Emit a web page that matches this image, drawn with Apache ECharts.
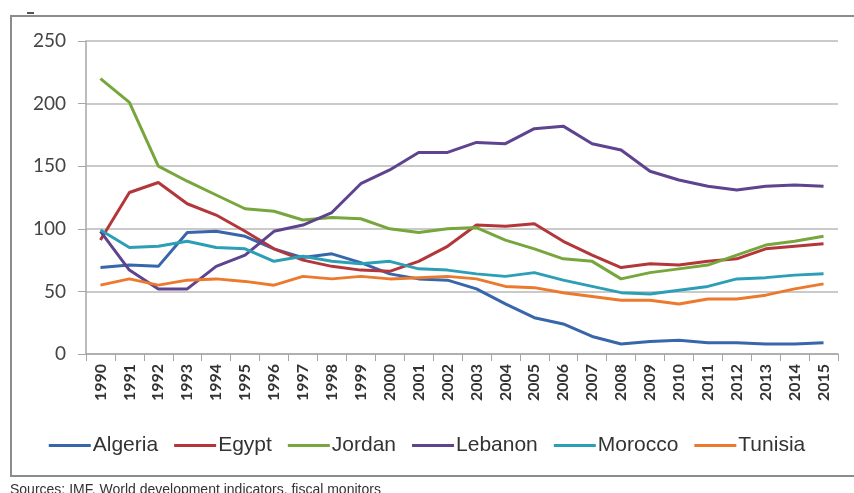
<!DOCTYPE html>
<html>
<head>
<meta charset="utf-8">
<script src="https://cdn.jsdelivr.net/npm/echarts@6/dist/echarts.min.js"></script>
<style>
  html, body { margin: 0; padding: 0; background: #fff; }
  #chart { width: 854px; height: 493px; }
</style>
</head>
<body>
<div id="chart"></div>
<script>
// years on the x axis
const years = ['1990','1991','1992','1993','1994','1995','1996','1997','1998','1999','2000','2001','2002',
  '2003','2004','2005','2006','2007','2008','2009','2010','2011','2012','2013','2014','2015']

// values
const algeria = [69, 71, 70, 97, 98, 94, 84, 77, 80, 73, 64, 60, 59, 52, 40, 29, 24, 14, 8, 10, 11, 9, 9, 8, 8, 9]
const egypt = [91, 129, 137, 120, 111, 98, 84, 75, 70, 67, 66, 74, 86, 103, 102, 104, 90, 79, 69, 72, 71, 74, 76, 84, 86, 88]
const jordan = [220, 201, 150, 138, 127, 116, 114, 107, 109, 108, 100, 97, 100, 101, 91, 84, 76, 74, 60, 65, 68, 71, 79, 87, 90, 94]
const lebanon = [98, 67, 52, 52, 70, 79, 98, 103, 113, 136, 147, 161, 161, 169, 168, 180, 182, 168, 163, 146, 139, 134, 131, 134, 135, 134]
const morocco = [99, 85, 86, 90, 85, 84, 74, 78, 74, 72, 74, 68, 67, 64, 62, 65, 59, 54, 49, 48, 51, 54, 60, 61, 63, 64]
const tunisia = [55, 60, 55, 59, 60, 58, 55, 62, 60, 62, 60, 61, 62, 60, 54, 53, 49, 46, 43, 43, 40, 44, 44, 47, 52, 56]

const names = ['Algeria', 'Egypt', 'Jordan', 'Lebanon', 'Morocco', 'Tunisia']
const colors = ['#3866aa', '#b3373a', '#77a63c', '#5e438f', '#2c9fb6', '#ec7a2e']
const values = [algeria, egypt, jordan, lebanon, morocco, tunisia]

const chart = echarts.init(document.getElementById('chart'))

const option = {
  animation: false,
  color: colors,
  grid: { left: 86, right: 16, top: 41, bottom: 139 },
  legend: {
    top: 430,
    left: 'center',
    icon: 'rect',
    itemWidth: 42,
    itemHeight: 3,
    itemGap: 16,
    textStyle: {
      fontFamily: "'Liberation Sans Narrow', 'Liberation Sans', sans-serif",
      fontSize: 21,
      padding: [0, 0, 0, -3],
      color: '#333'
    },
    data: names
  },
  xAxis: {
    type: 'category',
    data: years,
    boundaryGap: true,
    axisLine: { lineStyle: { color: '#a6a6a6', width: 1.5 } },
    axisTick: { show: true, length: 7, lineStyle: { color: '#a6a6a6' } },
    axisLabel: {
      rotate: 90,
      interval: 0,
      margin: 10,
      fontFamily: 'Lato, sans-serif',
      fontSize: 16,
      fontWeight: 'bold',
      color: '#333'
    }
  },
  yAxis: {
    type: 'value',
    min: 0,
    max: 250,
    interval: 50,
    axisLine: { show: true, lineStyle: { color: '#a6a6a6', width: 1.5 } },
    axisTick: { show: true, length: 8, lineStyle: { color: '#a6a6a6' } },
    splitLine: { lineStyle: { color: '#b8b8b8', width: 1.5 } },
    axisLabel: {
      margin: 20,
      fontFamily: 'Lato, sans-serif',
      fontSize: 19,
      color: '#444'
    }
  },
  series: names.map((n, i) => ({
    name: n,
    type: 'line',
    data: values[i],
    symbol: 'none',
    lineStyle: { width: 3 }
  })),
  graphic: [
    // frame round the chart
    {
      type: 'rect',
      shape: { x: 11, y: 16, width: 860, height: 460 },
      style: { fill: 'none', stroke: '#8c8c8c', lineWidth: 2 }
    },
    {
      type: 'rect',
      shape: { x: 27, y: 12, width: 7, height: 2 },
      style: { fill: '#555' }
    },
    {
      type: 'text',
      left: 10,
      top: 483,
      style: {
        text: 'Sources: IMF, World development indicators, fiscal monitors',
        fontFamily: "'Liberation Sans Narrow', 'Liberation Sans', sans-serif",
        fontSize: 14,
        fill: '#333'
      }
    }
  ]
}

chart.setOption(option)
</script>
</body>
</html>
